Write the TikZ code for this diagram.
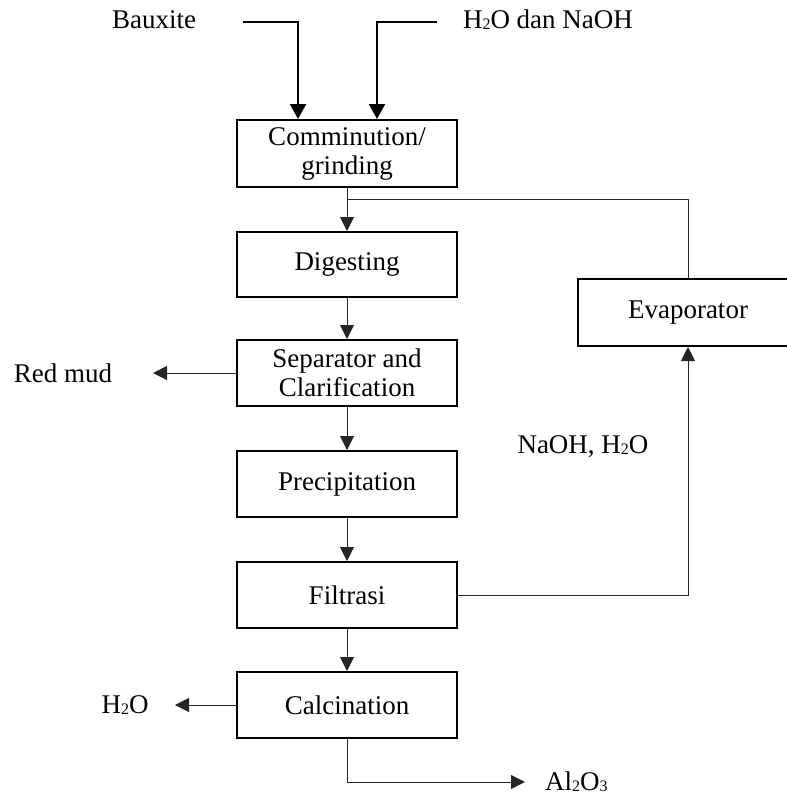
\documentclass[tikz,border=0pt]{standalone}
\usepackage{fontspec}
\setmainfont{Liberation Serif}
\usetikzlibrary{arrows.meta}
\newcommand{\lowsub}[1]{\raisebox{-1pt}{\fontsize{16}{16}\selectfont #1}}
\tikzset{
  procbox/.style={draw=black, line width=2pt, minimum width=220pt, inner sep=0pt,
    align=center, font=\fontsize{27}{29}\selectfont},
  lbl/.style={inner sep=0pt, font=\fontsize{27}{29}\selectfont},
  conn/.style={draw=black!85, line width=1pt, -{Triangle[length=14pt,width=14pt]}},
  thickconn/.style={draw=black, line width=2pt, -{Triangle[length=15pt,width=16pt]}},
  plainconn/.style={draw=black!85, line width=1pt}
}
\begin{document}
\begin{tikzpicture}[x=1pt,y=-1pt]
\useasboundingbox (0,0) rectangle (787,796);
% process boxes
\node[procbox, minimum height=67pt] (comm) at (347,153.5) {Comminution/\\grinding};
\node[procbox, minimum height=65pt] (dig) at (347,264.5) {Digesting};
\node[procbox, minimum height=66pt] (sep) at (347,373) {Separator and\\Clarification};
\node[procbox, minimum height=66pt] (prec) at (347,484) {Precipitation};
\node[procbox, minimum height=66pt] (fil) at (347,595) {Filtrasi};
\node[procbox, minimum height=66pt] (calc) at (347,705) {Calcination};
\node[procbox, minimum height=67pt] (evap) at (688,312.5) {Evaporator};
% labels
\node[lbl] (bx) at (154,20) {Bauxite};
\node[lbl] (hn) at (548,20) {H\lowsub{2}O dan NaOH};
\node[lbl] (rm) at (63,373) {Red mud};
\node[lbl] (nh) at (583,447) {NaOH, H\lowsub{2}O};
\node[lbl] (hw) at (125,705) {H\lowsub{2}O};
\node[lbl, anchor=west] (al) at (545,782) {Al\lowsub{2}O\lowsub{3}};
% free ends
\coordinate (bxs) at (243,22);
\coordinate (hns) at (437,22);
\coordinate (jn) at (347,199);
\coordinate (rme) at (153,373);
\coordinate (hwe) at (175,705);
\coordinate (ale) at (525,782);
% connectors
\draw[thickconn] (bxs) -| ([xshift=-49pt]comm.north);
\draw[thickconn] (hns) -| ([xshift=30pt]comm.north);
\draw[conn] (comm) -- (dig);
\draw[plainconn] (jn) -| (evap.north);
\draw[conn] (dig) -- (sep);
\draw[conn] (sep) -- (prec);
\draw[conn] (prec) -- (fil);
\draw[conn] (fil) -- (calc);
\draw[conn] (sep.west) -- (rme);
\draw[conn] (fil.east) -| (evap.south);
\draw[conn] (calc.west) -- (hwe);
\draw[conn] (calc.south) |- (ale);
\end{tikzpicture}
\end{document}
